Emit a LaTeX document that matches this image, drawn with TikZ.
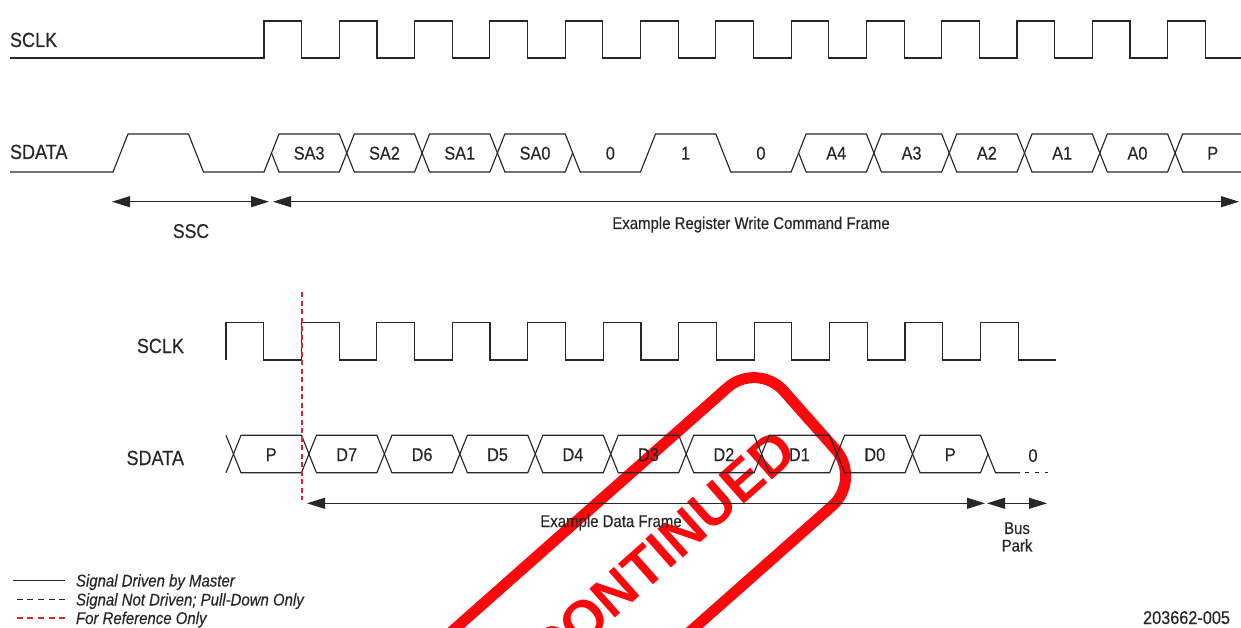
\documentclass[tikz,border=0pt]{standalone}
\usepackage{fontspec}
\setmainfont[FakeStretch=0.88,FakeBold=0.35]{Liberation Sans}
\newfontfamily\stampfont{Liberation Sans}
\usetikzlibrary{arrows.meta,positioning}

\definecolor{ink}{RGB}{40,38,38}
\definecolor{stampred}{RGB}{250,8,12}
\definecolor{refred}{RGB}{232,32,42}

\tikzstyle{every node}+=[inner sep=0pt,outer sep=0pt,text=ink]
\tikzstyle{waveline}=[draw=ink,line width=1.15pt]
\tikzstyle{refline}=[draw=refred,line width=1.6pt,dash pattern=on 5pt off 3.5pt]
\tikzstyle{dimarrow}=[draw=ink,line width=1.1pt,{Triangle[length=18pt,width=11pt]}-{Triangle[length=18pt,width=11pt]}]
\tikzstyle{siglabel}=[font=\fontsize{20.5}{22}\selectfont,anchor=base west]
\tikzstyle{bitlabel}=[font=\fontsize{18.5}{20}\selectfont,anchor=base]
\tikzstyle{notelabel}=[font=\fontsize{17}{19}\selectfont,anchor=base]
\tikzstyle{legendlabel}=[font=\fontsize{17}{19}\selectfont\itshape,anchor=base west]

\begin{document}
\begin{tikzpicture}[x=1pt,y=-1pt]
\useasboundingbox (0,0) rectangle (1241,628);

\begin{scope}
\clip (0,0) rectangle (1241,628);
\node[draw=stampred,line width=11pt,rounded corners=40pt,minimum width=488pt,minimum height=158pt,rotate=41.5,text=stampred,font=\stampfont\bfseries\fontsize{56}{60}\selectfont] (stamp) at (627,582) {DISCONTINUED};
\end{scope}

% command frame
\node[siglabel] (clkA) at (10,47) {SCLK};
\node[siglabel] (datA) at (10,159) {SDATA};

\draw[waveline] (10,58) -- (264,58)
  \foreach \k in {0,...,12} { -- ++(0,-37) -- ++(37.7,0) -- ++(0,37) -- ++(37.6,0) };

\draw[waveline] (10,172) -- (113,172) -- (128,134) -- (188.5,134) -- (203.5,172) -- (264,172) -- (271.5,153);
\foreach \k in {0,1,2,3,7,8,9,10,11}
  \draw[waveline] ({271.5+75.3*\k},153) -- ++(7.5,-19) -- ++(60.3,0) -- ++(7.5,19) -- ++(-7.5,19) -- ++(-60.3,0) -- cycle;
\draw[waveline] (572.7,153) -- (580.2,172) -- (640.5,172) -- (655.5,134) -- (715.8,134) -- (730.8,172) -- (791.1,172) -- (798.6,153);
\draw[waveline] (1241,134) -- (1182.6,134) -- (1175.1,153) -- (1182.6,172) -- (1241,172);
\foreach \k/\t in {0/SA3,1/SA2,2/SA1,3/SA0,4/0,5/1,6/0,7/A4,8/A3,9/A2,10/A1,11/A0,12/P}
  \node[bitlabel] (ta\k) at ({309.15+75.3*\k},159.6) {\t};

\coordinate (sscL) at (112,201.7);
\coordinate (sscR) at (269,201.7);
\coordinate (cmdL) at (273,201.7);
\coordinate (cmdR) at (1239,201.7);
\draw[dimarrow] (sscL) -- (sscR);
\draw[dimarrow] (cmdL) -- (cmdR);
\node[notelabel,font=\fontsize{20}{22}\selectfont] (ssc) at (191,238) {SSC};
\node[notelabel] (cmd) at (751,229) {Example Register Write Command Frame};

% data frame
\node[siglabel,anchor=base east] (clkB) at (184,353) {SCLK};
\node[siglabel,anchor=base east] (datB) at (184,465) {SDATA};

\draw[waveline] (226,360)
  \foreach \k in {0,...,10} { -- ++(0,-37.7) -- ++(37.7,0) -- ++(0,37.7) -- ++(37.75,0) };

\draw[waveline] (226,435.3) -- (233.5,454) -- (226,472.7);
\foreach \k in {0,...,9}
  \draw[waveline] ({233.5+75.45*\k},454) -- ++(7.5,-18.7) -- ++(60.45,0) -- ++(7.5,18.7) -- ++(-7.5,18.7) -- ++(-60.45,0) -- cycle;
\draw[waveline] (988,454) -- (995.5,472.7) -- (1020,472.7);
\draw[waveline,dash pattern=on 4pt off 6pt] (1025,472.7) -- (1048,472.7);
\foreach \k/\t in {0/P,1/D7,2/D6,3/D5,4/D4,5/D3,6/D2,7/D1,8/D0,9/P}
  \node[bitlabel] (tb\k) at ({271.2+75.45*\k},461) {\t};
\node[bitlabel] (park0) at (1033,462) {0};

\coordinate (refT) at (301.7,292);
\coordinate (refB) at (301.7,500);
\draw[refline] (refT) -- (refB);

\coordinate (datL) at (307,503.3);
\coordinate (datR) at (985,503.3);
\coordinate (busL) at (987,503.3);
\coordinate (busR) at (1047,503.3);
\draw[dimarrow] (datL) -- (datR);
\draw[dimarrow] (busL) -- (busR);
\node[notelabel] (frame) at (611,527) {Example Data Frame};
\node[notelabel] (bus) at (1017,534) {Bus};
\node[notelabel,below=5pt of bus] (park) {Park};

% legend
\coordinate (lgA1) at (13,580.5);
\coordinate (lgA2) at (65,580.5);
\coordinate (lgB1) at (16.7,599.5);
\coordinate (lgB2) at (65,599.5);
\coordinate (lgC1) at (16.7,618);
\coordinate (lgC2) at (65,618);
\draw[waveline,line width=1.2pt] (lgA1) -- (lgA2);
\draw[waveline,line width=1.2pt,dash pattern=on 6pt off 4.6pt] (lgB1) -- (lgB2);
\draw[refline,line width=1.2pt,dash pattern=on 6pt off 4.6pt] (lgC1) -- (lgC2);
\node[legendlabel] (lgA) at (76,586.5) {Signal Driven by Master};
\node[legendlabel] (lgB) at (76,605.5) {Signal Not Driven; Pull-Down Only};
\node[legendlabel] (lgC) at (76,624) {For Reference Only};

\node[notelabel,anchor=base east,font=\fontsize{18.5}{20}\selectfont] (docno) at (1230,624) {203662-005};
\end{tikzpicture}
\end{document}
